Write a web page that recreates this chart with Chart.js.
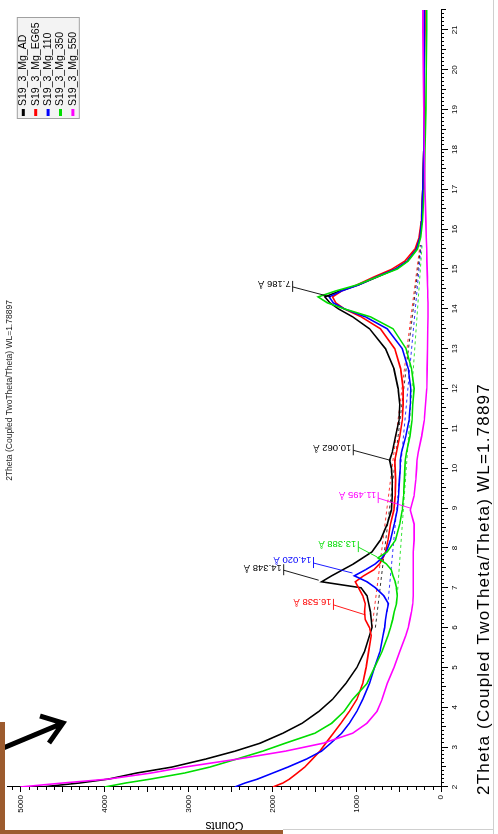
<!DOCTYPE html>
<html>
<head>
<meta charset="utf-8">
<script src="https://cdn.jsdelivr.net/npm/chart.js@4.4.1/dist/chart.umd.min.js"></script>
<style>
  html, body { margin: 0; padding: 0; background: #fff; }
  body { width: 498px; height: 834px; overflow: hidden; position: relative; }
  /* the scanned chart lies on its side: draw it landscape, then turn it */
  #wrap { position: absolute; left: 0; top: 0; width: 834px; height: 498px;
          transform-origin: 0 0; transform: translate(0, 834px) rotate(-90deg); }
</style>
</head>
<body>
<div id="wrap"><canvas id="xrd" width="834" height="498"></canvas></div>
<script>
// 2Theta positions (deg)
const twoTheta = [2.0, 2.1, 2.2, 2.35, 2.5, 2.7, 2.9, 3.1, 3.35, 3.6, 3.9, 4.2, 4.6, 5.0, 5.4, 5.8,
  6.0, 6.2, 6.4, 6.6, 6.8, 7.0, 7.15, 7.3, 7.45, 7.6, 7.75, 7.9,
  8.2, 8.6, 8.95, 9.3, 9.7, 10.0, 10.2, 10.4, 10.8, 11.2, 11.6, 12.0,
  12.5, 13.0, 13.5, 13.8, 14.0, 14.15, 14.3, 14.45, 14.6, 14.8, 15.0, 15.2, 15.5, 15.8, 16.2,
  17.0, 18.0, 19.0, 20.0, 21.0, 21.5];

// counts per sample
const cntAD = [4750, 4300, 3950, 3620, 3200, 2800, 2450, 2150, 1880, 1650, 1450, 1290, 1130, 1000, 910, 850,
  820, 830, 840, 860, 880, 950, 1420, 1300, 1170, 1040, 930, 820,
  720, 640, 590, 580, 580, 590, 610, 580, 540, 500, 490, 510,
  560, 660, 850, 1050, 1220, 1320, 1380, 1200, 980, 760, 540, 400, 290, 250, 230,
  215, 205, 200, 200, 195, 195];
const cntEG65 = [2000, 1880, 1800, 1710, 1620, 1530, 1440, 1370, 1280, 1190, 1090, 1000, 930, 890, 860, 830,
  850, 900, 910, 900, 930, 980, 1020, 920, 800, 730, 690, 660,
  630, 600, 560, 545, 540, 545, 550, 530, 490, 460, 450, 450,
  480, 550, 720, 950, 1150, 1250, 1290, 1180, 1000, 800, 580, 430, 310, 260, 235,
  215, 205, 200, 200, 195, 195];
const cnt110 = [2450, 2330, 2180, 2000, 1820, 1600, 1420, 1310, 1180, 1090, 1000, 930, 850, 790, 725, 690,
  670, 660, 645, 625, 680, 780, 880, 1030, 900, 780, 700, 650,
  600, 555, 520, 505, 495, 485, 485, 470, 420, 380, 365, 360,
  390, 460, 640, 900, 1150, 1280, 1330, 1180, 980, 770, 540, 400, 290, 250, 230,
  215, 205, 205, 200, 200, 200];
const cnt350 = [4000, 3750, 3450, 3050, 2750, 2430, 2120, 1850, 1500, 1300, 1150, 1050, 880, 790, 700, 630,
  600, 575, 555, 530, 520, 530, 545, 570, 590, 650, 750, 640,
  540, 490, 460, 445, 435, 430, 425, 410, 370, 345, 335, 320,
  350, 415, 570, 840, 1150, 1350, 1460, 1250, 1000, 760, 520, 390, 280, 240, 220,
  200, 190, 180, 175, 170, 170];
const cnt550 = [5000, 4500, 3950, 3450, 3050, 2420, 1850, 1400, 1050, 880, 760, 700, 640, 560, 490, 420,
  390, 370, 350, 335, 330, 330, 330, 330, 330, 330, 330, 330,
  320, 320, 365, 320, 300, 290, 285, 270, 230, 200, 185, 170,
  165, 160, 158, 155, 155, 155, 158, 158, 160, 162, 165, 168, 170, 175, 180,
  190, 200, 205, 210, 215, 215];

const sampleNames = ['S19_3_Mg_AD', 'S19_3_Mg_EG65', 'S19_3_Mg_110', 'S19_3_Mg_350', 'S19_3_Mg_550'];
const sampleCounts = [cntAD, cntEG65, cnt110, cnt350, cnt550];
const sampleColors = ['#000000', '#ff0000', '#0000ff', '#00dd00', '#ff00ff'];

// axis tick labels
const xTicks = [2, 3, 4, 5, 6, 7, 8, 9, 10, 11, 12, 13, 14, 15, 16, 17, 18, 19, 20, 21];
const yTicks = [0, 1000, 2000, 3000, 4000, 5000];

// background lines under the peaks (dashed)
const baseSample = [0, 1, 2, 3];
const baseTheta = [[6.0, 15.6], [6.0, 15.6], [6.4, 15.6], [6.8, 15.6]];
const baseCounts = [[780, 240], [820, 250], [640, 235], [520, 225]];

// d-spacing marks
const peakText = ['7.186 Å', '10.062 Å', '11.495 Å', '13.388 Å', '14.020 Å', '14.348 Å', '16.538 Å'];
const peakTheta = [14.30, 10.20, 9.00, 7.77, 7.37, 7.19, 6.32];
const peakCounts = [1312, 603, 366, 757, 1052, 1454, 898];
const peakSample = [0, 0, 4, 3, 2, 0, 1];

const xTitle = '2Theta (Coupled TwoTheta/Theta) WL=1.78897';
const yTitle = 'Counts';

const FONT = 'Liberation Sans';
const peakLift = [38, 37, 32, 19, 39, 35, 32];

const datasets = sampleCounts.map((arr, i) => ({
  label: sampleNames[i],
  data: twoTheta.map((t, j) => ({ x: t, y: arr[j] })),
  borderColor: sampleColors[i],
  borderWidth: 1.6,
  pointRadius: 0,
  order: 5 - i
}));
baseSample.forEach((s, k) => {
  datasets.push({
    label: 'base',
    data: baseTheta[k].map((t, j) => ({ x: t, y: baseCounts[k][j] })),
    borderColor: sampleColors[s],
    borderWidth: 0.8,
    borderDash: [3, 3],
    pointRadius: 0,
    order: 10
  });
});

const decorations = {
  id: 'decorations',
  afterDatasetsDraw(chart) {
    const { ctx, scales: { x, y } } = chart;
    ctx.save();
    peakText.forEach((txt, i) => {
      const col = sampleColors[peakSample[i]];
      const px = x.getPixelForValue(peakTheta[i]);
      const py = y.getPixelForValue(peakCounts[i]);
      const bx = px + 10, by = py - peakLift[i];
      ctx.strokeStyle = col;
      ctx.lineWidth = 0.9;
      ctx.beginPath();
      ctx.moveTo(px, py); ctx.lineTo(bx, by);
      ctx.moveTo(bx - 5, by); ctx.lineTo(bx + 6, by);
      ctx.stroke();
      ctx.save();
      ctx.translate(bx + 3, by - 2);
      ctx.rotate(-Math.PI / 2);
      ctx.fillStyle = col;
      ctx.font = '9.5px "' + FONT + '"';
      ctx.textAlign = 'left';
      ctx.textBaseline = 'middle';
      ctx.fillText(txt, 0, 0);
      ctx.restore();
    });
    ctx.restore();
  },
  afterDraw(chart) {
    const { ctx, chartArea: a, scales: { x, y } } = chart;
    ctx.save();
    // minor ticks
    ctx.strokeStyle = '#000';
    ctx.lineWidth = 1;
    ctx.beginPath();
    for (let i = 21; i <= 215; i++) {
      if (i % 10 === 0) continue;
      const px = Math.round(x.getPixelForValue(i / 10)) + 0.5;
      const len = i % 5 === 0 ? 5 : 3;
      ctx.moveTo(px, a.bottom); ctx.lineTo(px, a.bottom + len);
    }
    for (let v = 100; v <= 5100; v += 100) {
      if (v % 1000 === 0) continue;
      const py = Math.round(y.getPixelForValue(v)) + 0.5;
      const len = v % 500 === 0 ? 5 : 3;
      ctx.moveTo(a.left, py); ctx.lineTo(a.left - len, py);
    }
    ctx.stroke();

    // axis title under the 2Theta axis
    ctx.fillStyle = '#000';
    ctx.font = '17px "' + FONT + '"';
    ctx.textAlign = 'left';
    ctx.textBaseline = 'middle';
    ctx.letterSpacing = '1.2px';
    ctx.fillText(xTitle, 39, 484);
    ctx.letterSpacing = '0px';

    // small title on top
    ctx.fillStyle = '#222';
    ctx.font = '8.5px "' + FONT + '"';
    ctx.textAlign = 'center';
    ctx.fillText(xTitle, (a.left + a.right) / 2 + 8, 10);

    // legend box
    const lx = a.right - 109, ly = a.top + 9, lw = 101, lh = 62;
    ctx.fillStyle = '#f3f3f3';
    ctx.fillRect(lx, ly, lw, lh);
    ctx.strokeStyle = '#a0a0a0';
    ctx.lineWidth = 1;
    ctx.strokeRect(lx + 0.5, ly + 0.5, lw, lh);
    ctx.font = '10.5px "' + FONT + '"';
    ctx.textAlign = 'left';
    sampleNames.forEach((n, i) => {
      const ry = ly + 6.5 + i * 12.4;
      ctx.fillStyle = sampleColors[i];
      ctx.fillRect(lx + 3, ry - 1.5, 7, 3);
      ctx.fillStyle = '#000';
      ctx.fillText(n, lx + 13, ry);
    });

    // the arrow and frame that are on the photographed sheet
    ctx.strokeStyle = '#000';
    ctx.lineWidth = 5;
    ctx.lineJoin = 'miter';
    ctx.beginPath();
    ctx.moveTo(83, -4); ctx.lineTo(111, 63);
    ctx.moveTo(118, 40); ctx.lineTo(111, 63); ctx.lineTo(91, 49);
    ctx.stroke();
    ctx.fillStyle = '#9c5b2e';
    ctx.fillRect(0, 0, 112, 5);
    ctx.fillRect(0, 0, 4, 283);
    ctx.strokeStyle = '#cfcfcf';
    ctx.lineWidth = 1;
    ctx.beginPath();
    ctx.moveTo(0, 493.5); ctx.lineTo(834, 493.5);
    ctx.moveTo(4.5, 283); ctx.lineTo(4.5, 493);
    ctx.stroke();
    ctx.restore();
  }
};

new Chart(document.getElementById('xrd'), {
  type: 'line',
  data: { datasets },
  options: {
    responsive: false,
    animation: false,
    devicePixelRatio: 1,
    layout: { padding: { top: 5, right: 10, left: 0, bottom: 0 } },
    plugins: { legend: { display: false }, tooltip: { enabled: false } },
    elements: { line: { tension: 0 } },
    scales: {
      x: {
        type: 'linear', min: 2, max: 21.5,
        afterBuildTicks: s => { s.ticks = xTicks.map(v => ({ value: v })); },
        afterFit: s => { s.height = 57; },
        border: { color: '#000', width: 1 },
        grid: { drawOnChartArea: false, color: '#000', tickLength: 7 },
        ticks: { autoSkip: false, maxRotation: 0, padding: 2,
                 color: '#000', font: { family: FONT, size: 8 } },
        title: { display: false }
      },
      y: {
        min: 0, max: 5150,
        afterBuildTicks: s => { s.ticks = yTicks.map(v => ({ value: v })); },
        afterFit: s => { s.width = 47; },
        border: { color: '#000', width: 1 },
        grid: { drawOnChartArea: false, color: '#000', tickLength: 5 },
        ticks: { padding: 3, color: '#000',
                 font: { family: FONT, size: 8 }, callback: v => String(v) },
        title: { display: true, text: yTitle, color: '#000',
                 font: { family: FONT, size: 12 }, padding: { top: 1, bottom: 0 } }
      }
    }
  },
  plugins: [decorations]
});
</script>
</body>
</html>
